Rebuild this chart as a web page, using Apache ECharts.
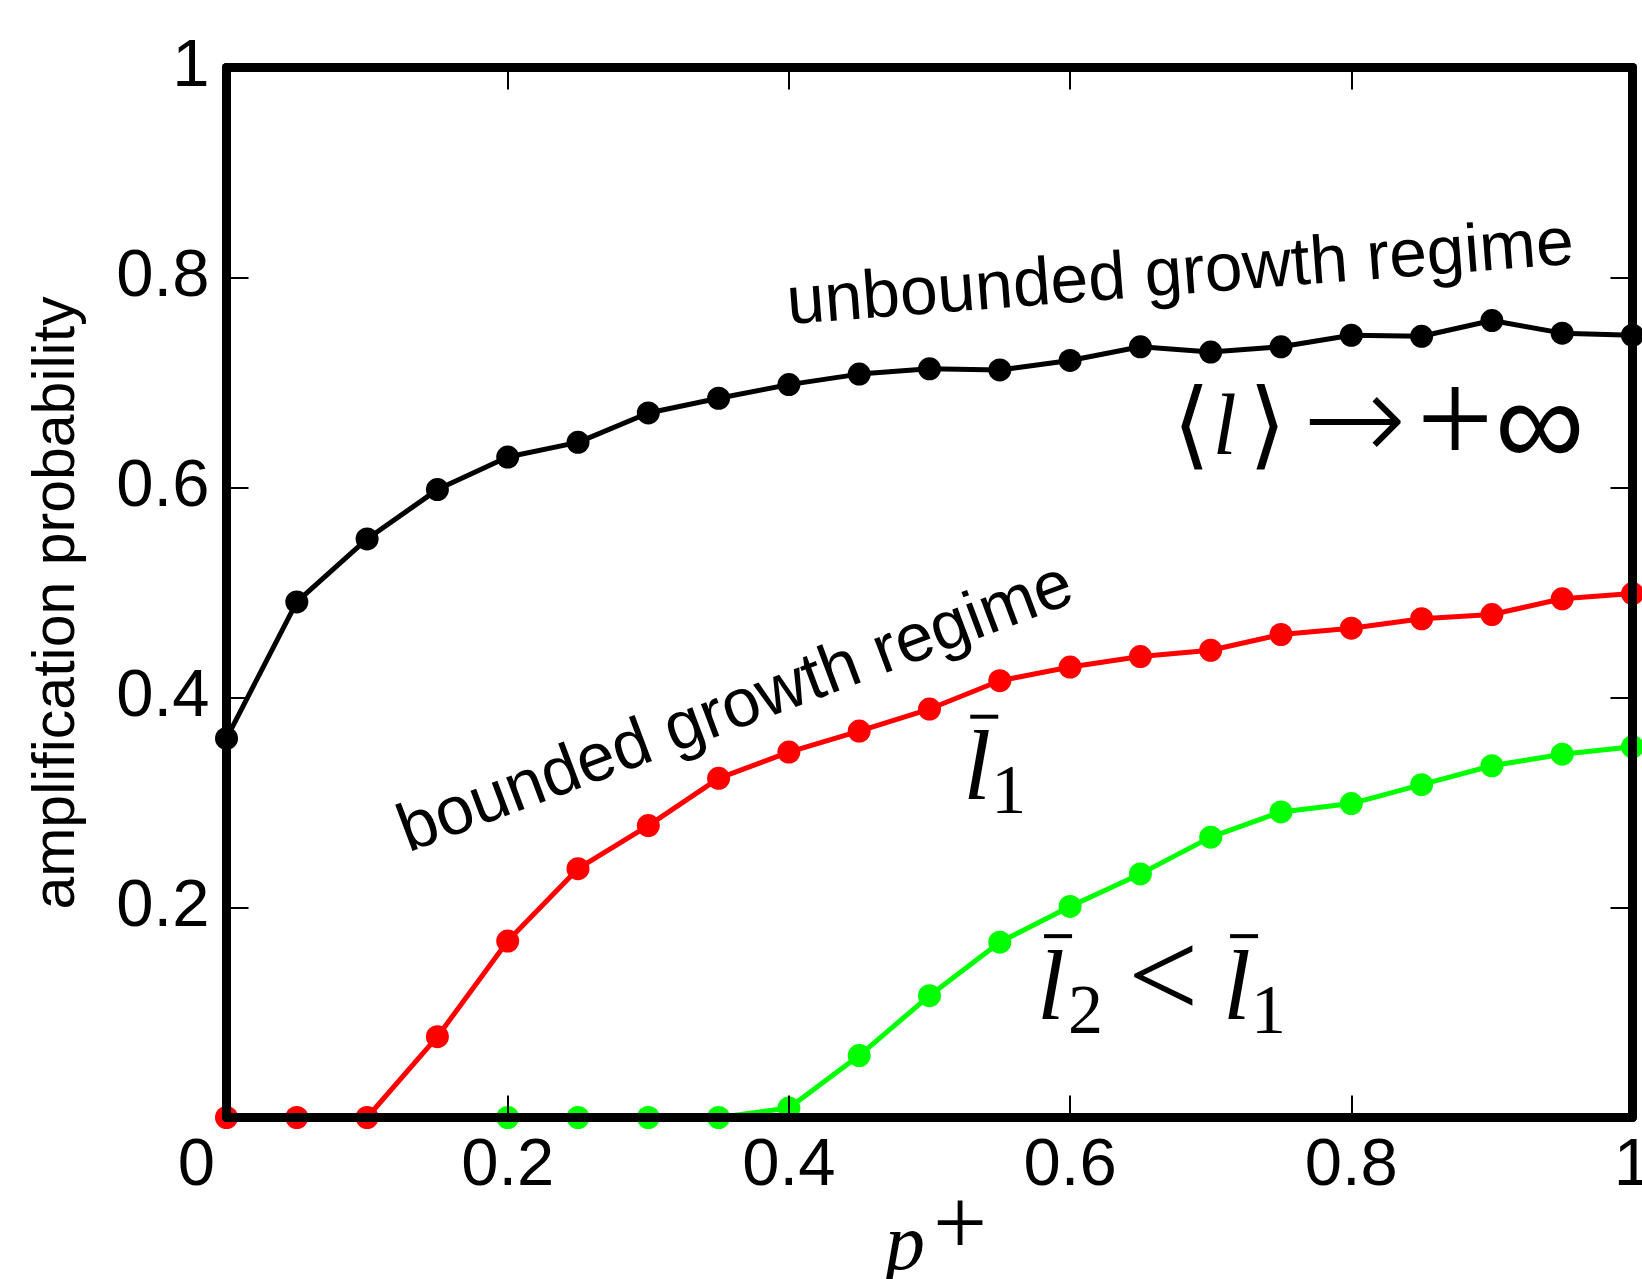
<!DOCTYPE html>
<html>
<head>
<meta charset="utf-8">
<script src="https://cdn.jsdelivr.net/npm/echarts@6/dist/echarts.min.js"></script>
<style>
html, body { margin: 0; padding: 0; background: #fff; }
#main { width: 1642px; height: 1279px; }
</style>
</head>
<body>
<div id="main"></div>
<script>
// data
var pPlus = [0, 0.05, 0.1, 0.15, 0.2, 0.25, 0.3, 0.35, 0.4, 0.45, 0.5,
             0.55, 0.6, 0.65, 0.7, 0.75, 0.8, 0.85, 0.9, 0.95, 1];
var unboundedY = [0.361, 0.491, 0.551, 0.598, 0.629, 0.643, 0.671, 0.685, 0.698, 0.708, 0.713,
                  0.712, 0.721, 0.734, 0.729, 0.734, 0.745, 0.744, 0.759, 0.747, 0.745];
var bounded1Y = [0, 0, 0, 0.077, 0.168, 0.237, 0.278, 0.323, 0.348, 0.368, 0.389,
                 0.416, 0.429, 0.439, 0.445, 0.460, 0.466, 0.475, 0.479, 0.494, 0.499];
var bounded2Y = [null, null, null, null, 0, 0, 0, 0, 0.009, 0.059, 0.116,
                 0.167, 0.201, 0.232, 0.267, 0.291, 0.299, 0.317, 0.335, 0.346, 0.353];

var SANS = '"Liberation Sans", Arial, Helvetica, sans-serif';
var SERIF = '"Liberation Serif", "DejaVu Serif", serif';
var DJS = '"DejaVu Sans", sans-serif';

function pairs(ys) {
  var out = [];
  for (var i = 0; i < pPlus.length; i++) {
    if (ys[i] !== null) out.push([pPlus[i], ys[i]]);
  }
  return out;
}

function lineSeries(name, ys, color) {
  return {
    name: name,
    type: 'line',
    data: pairs(ys),
    symbol: 'circle',
    symbolSize: 23,
    showSymbol: true,
    clip: false,
    z: 2,
    lineStyle: { color: color, width: 5 },
    itemStyle: { color: color },
    emphasis: { disabled: true }
  };
}

var myChart = echarts.init(document.getElementById('main'));

var axisCommon = {
  type: 'value',
  min: 0,
  max: 1,
  interval: 0.2,
  z: 10,
  splitLine: { show: false },
  axisLine: { show: true, onZero: false, lineStyle: { color: '#000', width: 9 } },
  axisTick: { show: true, inside: true, length: 22, lineStyle: { color: '#000', width: 2 } }
};

var option = {
  animation: false,
  backgroundColor: '#fff',
  grid: { left: 226.5, right: 9.5, top: 67.5, bottom: 161.5, containLabel: false, outerBoundsMode: 'none' },
  xAxis: [
    echarts.util.merge({
      position: 'bottom',
      axisLabel: {
        show: true, margin: 16, color: '#000', fontSize: 67, fontFamily: SANS,
        hideOverlap: false,
        formatter: function (v) {
          return v === 0 ? '{z|0}' : String(+v.toFixed(1));
        },
        rich: { z: { fontSize: 67, fontFamily: SANS, color: '#000', padding: [0, 60, 0, 0] } }
      }
    }, axisCommon, true),
    echarts.util.merge({ position: 'top', axisLabel: { show: false } }, axisCommon, true)
  ],
  yAxis: [
    echarts.util.merge({
      position: 'left',
      axisLabel: {
        show: true, margin: 17, color: '#000', fontSize: 67, fontFamily: SANS,
        formatter: function (v) {
          return v === 0 ? '' : String(+v.toFixed(1));
        }
      }
    }, axisCommon, true),
    echarts.util.merge({ position: 'right', axisLabel: { show: false } }, axisCommon, true)
  ],
  series: [
    lineSeries('unbounded', unboundedY, '#000000'),
    lineSeries('l1', bounded1Y, '#ff0000'),
    lineSeries('l2', bounded2Y, '#00ff00')
  ]
};
myChart.setOption(option);

// helpers for annotations, anchored in data space
function px(x, y) { return myChart.convertToPixel({ gridIndex: 0 }, [x, y]); }

// rotated sans text given its baseline start point
function slantText(txt, x, y, deg, size) {
  var p = px(x, y);
  var a = deg * Math.PI / 180;
  var off = 0.347 * size;
  return {
    type: 'text',
    x: p[0] - off * Math.sin(a),
    y: p[1] - off * Math.cos(a),
    rotation: a,
    z: 20,
    style: {
      text: txt, fill: '#000', font: size + 'px ' + SANS,
      align: 'left', verticalAlign: 'middle'
    }
  };
}

// math label: glyphs placed relative to a baseline-left anchor, bars as rects
function mathLabel(out, x, y, parts, bars) {
  var p = px(x, y);
  parts.forEach(function (q) {
    out.push({
      type: 'text',
      x: p[0] + q.dx,
      y: p[1] + (q.dy || 0) - 0.3375 * q.size,
      z: 20,
      style: {
        text: q.t, fill: '#000',
        font: (q.it ? 'italic ' : '') + (q.w ? q.w + ' ' : '') + q.size + 'px ' + (q.fam || SERIF),
        align: 'left', verticalAlign: 'middle'
      }
    });
  });
  (bars || []).forEach(function (b) {
    out.push({
      type: 'rect', x: p[0] + b[0], y: p[1] + b[1], z: 20,
      shape: { x: 0, y: 0, width: b[2], height: 4 },
      style: { fill: '#000' }
    });
  });
}

var graphics = [
  // y axis title
  {
    type: 'text', x: 58, y: px(0, 0.49)[1], rotation: Math.PI / 2, z: 20,
    style: { text: 'amplification probability', fill: '#000', font: '59px ' + SANS, align: 'center', verticalAlign: 'middle' }
  },
  slantText('unbounded growth regime', 0.4, 0.751, 4.4, 67.9),
  slantText('bounded growth regime', 0.1305, 0.248, 20.6, 68)
];

// x axis title p+
mathLabel(graphics, 0.4684, -0.150, [
  { t: 'p', it: true, size: 80, dx: 0 },
  { t: '+', size: 96, dx: 48, dy: -14 }
]);
mathLabel(graphics, 0.673, 0.626, [
  { t: '\u27E8', size: 96, dx: 0, dy: 4, fam: '"DejaVu Serif", "DejaVu Sans", serif' },
  { t: 'l', it: true, size: 86, dx: 40 },
  { t: '\u27E9', size: 96, dx: 76, dy: 4, fam: '"DejaVu Serif", "DejaVu Sans", serif' },
  { t: '\u2192', size: 124, dx: 130, dy: 10, w: 200, fam: DJS },
  { t: '+', size: 136, dx: 244, dy: 14 },
  { t: '\u221E', size: 126, dx: 322, dy: 16, w: 200, fam: DJS }
]);
mathLabel(graphics, 0.524, 0.296, [
  { t: 'l', it: true, size: 100, dx: 0 },
  { t: '1', size: 70, dx: 28, dy: 12 }
], [[7, -92, 28]]);
mathLabel(graphics, 0.5765, 0.087, [
  { t: 'l', it: true, size: 100, dx: 0 },
  { t: '2', size: 70, dx: 31, dy: 12 },
  { t: '<', size: 125, dx: 91, dy: 0 },
  { t: 'l', it: true, size: 100, dx: 186 },
  { t: '1', size: 70, dx: 214, dy: 12 }
], [[7, -92, 28], [193, -92, 28]]);

myChart.setOption({ graphic: graphics });
</script>
</body>
</html>
